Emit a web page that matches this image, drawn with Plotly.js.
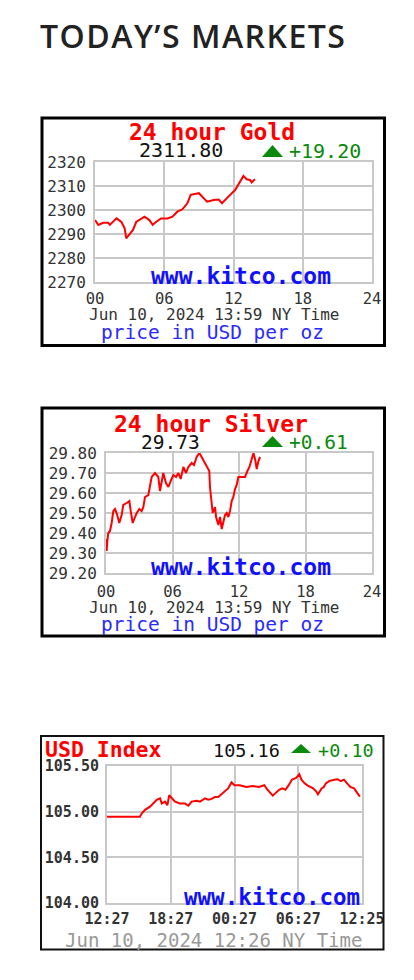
<!DOCTYPE html>
<html><head><meta charset="utf-8">
<script src="https://cdn.plot.ly/plotly-3.0.1.min.js"></script>
<style>
html,body{margin:0;padding:0;background:#fff;}
#wrap{position:relative;width:414px;height:980px;overflow:hidden;}
#heading{position:absolute;left:40px;top:20px;margin:0;font-family:'Open Sans';font-weight:600;font-size:32px;line-height:32px;letter-spacing:1.5px;color:#222;white-space:nowrap;z-index:2}
#chart{position:absolute;left:0;top:0;width:414px;height:980px;}
</style></head><body>
<div id="wrap"><div id="heading">TODAY’S MARKETS</div><div id="chart"></div></div>
<script>
// ---- Gold (24 hour, USD per oz) ----
const goldHours = [0, 0.29, 0.71, 1.14, 1.29, 1.86, 2.29, 2.57, 2.71, 3.0, 3.29, 3.57, 4.0, 4.29, 4.71, 5.0, 5.29, 5.71, 6.29, 6.71, 7.14, 7.57, 8.0, 8.29, 9.0, 9.29, 9.71, 10.29, 10.71, 11.0, 11.29, 11.71, 12.14, 12.57, 12.86, 13.14, 13.43, 13.57, 13.86];
const goldPrice = [2295.8, 2293.8, 2294.7, 2294.7, 2293.8, 2296.5, 2295.0, 2292.4, 2288.2, 2290.0, 2291.7, 2295.0, 2296.5, 2297.2, 2295.8, 2293.8, 2295.0, 2296.5, 2296.5, 2297.2, 2299.3, 2300.3, 2302.8, 2306.3, 2307.0, 2305.6, 2303.5, 2304.2, 2304.4, 2302.8, 2304.4, 2306.3, 2308.3, 2311.8, 2314.2, 2312.8, 2312.5, 2311.5, 2312.8];
const goldTickVals = [2270, 2280, 2290, 2300, 2310, 2320];

// ---- Silver (24 hour, USD per oz) ----
const silverHours = [0, 0.06, 0.12, 0.21, 0.36, 0.51, 0.66, 0.81, 0.96, 1.2, 1.41, 1.56, 1.87, 2.11, 2.23, 2.41, 2.62, 2.77, 3.01, 3.22, 3.37, 3.52, 3.82, 3.97, 4.12, 4.42, 4.72, 4.87, 5.02, 5.17, 5.41, 5.63, 5.84, 6.08, 6.32, 6.53, 6.74, 6.98, 7.22, 7.43, 7.73, 7.94, 8.18, 8.42, 8.63, 8.94, 9.15, 9.32, 9.38, 9.48, 9.63, 9.84, 9.93, 10.14, 10.29, 10.44, 10.59, 10.74, 10.89, 11.04, 11.19, 11.34, 11.49, 11.64, 11.79, 11.94, 12.24, 12.54, 12.76, 12.94, 13.15, 13.3, 13.45, 13.6, 13.75, 13.9];
const silverPrice = [29.37, 29.31, 29.36, 29.40, 29.41, 29.45, 29.51, 29.52, 29.50, 29.45, 29.49, 29.54, 29.55, 29.56, 29.51, 29.45, 29.48, 29.50, 29.52, 29.51, 29.53, 29.58, 29.59, 29.64, 29.68, 29.70, 29.68, 29.61, 29.66, 29.70, 29.65, 29.63, 29.66, 29.69, 29.68, 29.70, 29.67, 29.73, 29.70, 29.73, 29.75, 29.74, 29.78, 29.80, 29.78, 29.75, 29.73, 29.71, 29.63, 29.56, 29.50, 29.53, 29.48, 29.44, 29.48, 29.42, 29.45, 29.49, 29.50, 29.48, 29.51, 29.56, 29.58, 29.62, 29.64, 29.68, 29.68, 29.68, 29.71, 29.73, 29.77, 29.80, 29.77, 29.72, 29.76, 29.78];
const silverTickVals = [29.2, 29.3, 29.4, 29.5, 29.6, 29.7, 29.8];
const silverTickText = ['29.20', '29.30', '29.40', '29.50', '29.60', '29.70', '29.80'];

// ---- USD Index (hours since 12:27) ----
const usdHours = [0, 3.1, 3.26, 3.58, 4.05, 4.36, 4.68, 5.0, 5.15, 5.46, 5.68, 5.86, 6.1, 6.4, 6.87, 7.34, 7.65, 7.97, 8.44, 8.75, 9.22, 9.53, 9.84, 10.16, 10.47, 10.78, 11.25, 11.4, 11.72, 12.0, 12.5, 13.1, 13.7, 14.3, 14.8, 15.1, 15.6, 15.9, 16.2, 16.5, 16.8, 17.1, 17.4, 17.8, 18.1, 18.3, 18.6, 18.9, 19.4, 19.7, 19.85, 20.2, 20.4, 20.6, 20.9, 21.4, 21.7, 22.0, 22.3, 22.6, 22.9, 23.25, 23.55, 23.8];
const usdValue = [104.945, 104.945, 104.98, 105.02, 105.055, 105.09, 105.13, 105.145, 105.09, 105.11, 105.07, 105.18, 105.145, 105.11, 105.09, 105.09, 105.065, 105.11, 105.12, 105.11, 105.145, 105.13, 105.14, 105.16, 105.16, 105.19, 105.23, 105.255, 105.32, 105.29, 105.29, 105.27, 105.28, 105.27, 105.29, 105.24, 105.175, 105.21, 105.24, 105.255, 105.24, 105.29, 105.35, 105.37, 105.41, 105.35, 105.31, 105.285, 105.255, 105.22, 105.19, 105.255, 105.27, 105.31, 105.335, 105.35, 105.355, 105.335, 105.35, 105.31, 105.27, 105.255, 105.20, 105.165];
const usdTickVals = [104.0, 104.5, 105.0, 105.5];
const usdTickText = ['104.00', '104.50', '105.00', '105.50'];

const hourTickVals = [0, 6, 12, 18, 24];
const hourTickText = ['00', '06', '12', '18', '24'];
const usdTimeText = ['12:27', '18:27', '00:27', '06:27', '12:25'];

// ---- geometry helpers (pixels -> paper) ----
const W = 414, H = 980;
const px = x => x / W;
const py = y => 1 - y / H;

const MONO = 'DejaVu Sans Mono';
const GRID = '#c8c8c8';

function xAxis(x0, x1, ticktext, standoff, bold, size) {
  return {
    domain: [px(x0), px(x1)], range: [0, 24], tickvals: hourTickVals, ticktext: ticktext,
    showgrid: true, gridcolor: GRID, gridwidth: 2, zeroline: false,
    showline: true, mirror: true, linecolor: GRID, linewidth: 2,
    ticks: '', ticklabelstandoff: standoff, fixedrange: true,
    tickfont: {family: MONO, size: size, color: '#333', weight: bold ? 'bold' : 'normal'}
  };
}
function yAxis(y0, y1, range, tickvals, ticktext, standoff, anchor, bold, size) {
  return {
    domain: [py(y1), py(y0)], range: range, tickvals: tickvals, ticktext: ticktext,
    showgrid: true, gridcolor: GRID, gridwidth: 2, zeroline: false,
    showline: true, mirror: true, linecolor: GRID, linewidth: 2,
    ticks: '', ticklabelstandoff: standoff, fixedrange: true, anchor: anchor,
    tickfont: {family: MONO, size: size, color: '#333', weight: bold ? 'bold' : 'normal'}
  };
}

const lineStyle = {color: '#ff0000', width: 2};
const traces = [
  {x: goldHours, y: goldPrice, xaxis: 'x', yaxis: 'y', mode: 'lines', line: lineStyle, hoverinfo: 'skip'},
  {x: silverHours, y: silverPrice, xaxis: 'x2', yaxis: 'y2', mode: 'lines', line: lineStyle, hoverinfo: 'skip'},
  {x: usdHours, y: usdValue, xaxis: 'x3', yaxis: 'y3', mode: 'lines', line: lineStyle, hoverinfo: 'skip'}
];

function ann(text, x, y, size, color, opts) {
  return Object.assign({
    text: text, xref: 'paper', yref: 'paper', x: px(x), y: py(y),
    xanchor: 'center', yanchor: 'middle', showarrow: false,
    font: {family: MONO, size: size, color: color}
  }, opts || {});
}
const RED = '#ff0000', GREEN = '#0a8a0a', BLUE = '#1010ff', BLUE2 = '#2a2aff';

const annotations = [
  // Gold
  ann('24 hour Gold', 212, 132, 23, RED, {font: {family: MONO, size: 23, color: RED, weight: 'bold'}}),
  ann('2311.80', 181, 150, 20, '#111'),
  ann('+19.20', 325, 151, 20, GREEN),
  ann('www.kitco.com', 241, 276, 23, BLUE, {font: {family: MONO, size: 23, color: BLUE, weight: 'bold'}}),
  ann('Jun 10, 2024 13:59 NY Time', 214, 315, 16, '#333'),
  ann('price in USD per oz', 212, 332, 19.5, BLUE2),
  // Silver
  ann('24 hour Silver', 211, 424, 23, RED, {font: {family: MONO, size: 23, color: RED, weight: 'bold'}}),
  ann('29.73', 170, 442, 19.5, '#111'),
  ann('+0.61', 318, 442, 19.5, GREEN),
  ann('www.kitco.com', 241, 567, 23, BLUE, {font: {family: MONO, size: 23, color: BLUE, weight: 'bold'}}),
  ann('Jun 10, 2024 13:59 NY Time', 214, 607, 16, '#333'),
  ann('price in USD per oz', 212, 624, 19.5, BLUE2),
  // USD Index
  ann('USD Index', 43, 749, 21.5, RED, {xanchor: 'left', font: {family: MONO, size: 21.5, color: RED, weight: 'bold'}}),
  ann('105.16', 246, 750, 18.5, '#111'),
  ann('+0.10', 346, 750, 18.5, GREEN),
  ann('www.kitco.com', 272, 897, 22.5, BLUE, {font: {family: MONO, size: 22.5, color: BLUE, weight: 'bold'}}),
  ann('Jun 10, 2024 12:26 NY Time', 214, 940, 19, '#999')
];

function tri(xl, xr, yb, yt) {
  const xm = (xl + xr) / 2;
  return {type: 'path', xref: 'paper', yref: 'paper',
    path: `M ${px(xl)} ${py(yb)} L ${px(xr)} ${py(yb)} L ${px(xm)} ${py(yt)} Z`,
    fillcolor: '#0a8a0a', line: {width: 0}};
}
function box(x0, y0, x1, y1, w, c) {
  return {type: 'rect', xref: 'paper', yref: 'paper', x0: px(x0), x1: px(x1), y0: py(y1), y1: py(y0),
    line: {color: c, width: w}, fillcolor: 'rgba(0,0,0,0)', layer: 'above'};
}
const shapes = [
  box(42, 118, 384.5, 345.5, 3, '#000'),
  box(42, 408, 384.5, 636, 3, '#000'),
  box(41, 736, 383.5, 949.5, 2, '#111'),
  tri(262, 283, 157, 145),
  tri(262, 283, 447, 436),
  tri(291, 311, 753, 744)
];

const layout = {
  width: W, height: H, margin: {l: 0, r: 0, t: 0, b: 0},
  paper_bgcolor: '#fff', plot_bgcolor: '#fff', showlegend: false,
  xaxis: Object.assign(xAxis(95, 372, hourTickText, 1, false, 15.5), {anchor: 'y'}),
  yaxis: yAxis(162, 282, [2270, 2320], goldTickVals, goldTickVals.map(String), 4, 'x', false, 16),
  xaxis2: Object.assign(xAxis(106, 372, hourTickText, 3, false, 15.5), {anchor: 'y2'}),
  yaxis2: yAxis(453, 573, [29.2, 29.8], silverTickVals, silverTickText, 4, 'x2', false, 16),
  xaxis3: Object.assign(xAxis(107, 362, usdTimeText, 1, true, 15), {anchor: 'y3'}),
  yaxis3: yAxis(766, 903, [104.0, 105.5], usdTickVals, usdTickText, 3, 'x3', true, 15),
  annotations: annotations,
  shapes: shapes
};

Plotly.newPlot('chart', traces, layout, {staticPlot: true, displayModeBar: false});
</script>
</body></html>
